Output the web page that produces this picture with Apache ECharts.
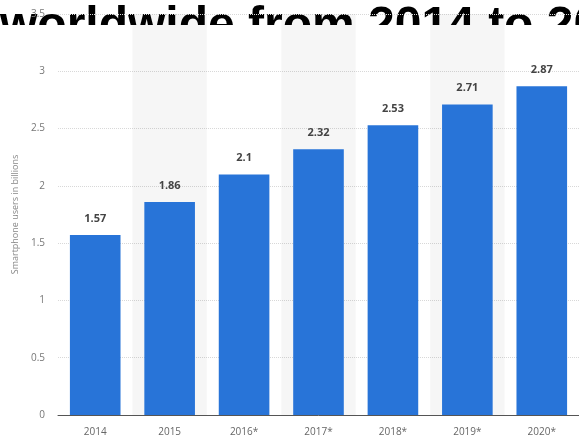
<!DOCTYPE html>
<html>
<head>
<meta charset="utf-8">
<script src="https://cdn.jsdelivr.net/npm/echarts@6/dist/echarts.min.js"></script>
<style>
  html, body { margin: 0; padding: 0; background: #fff; }
  #main { width: 579px; height: 441px; }
</style>
</head>
<body>
<div id="main"></div>
<script>
// data
var years = ['2014', '2015', '2016*', '2017*', '2018*', '2019*', '2020*'];
var users = [1.57, 1.86, 2.1, 2.32, 2.53, 2.71, 2.87];
var yTicks = [0, 0.5, 1, 1.5, 2, 2.5, 3, 3.5];
var titleText = 'worldwide from 2014 to 2020';

var myChart = echarts.init(document.getElementById('main'));
myChart.setOption({
    backgroundColor: '#fff',
    animation: false,
    textStyle: {fontFamily: 'Open Sans'},
    graphic: [
        {
            type: 'text', z: -20, x: 0, y: 3,
            style: {text: titleText, fill: '#000', font: 'bold 48px "Liberation Sans", Arial', verticalAlign: 'top'}
        },
        {
            // the plot area hides the lower half of the title
            type: 'rect', z: -10,
            shape: {x: 0, y: 25, width: 579, height: 40},
            style: {fill: '#fff'}
        }
    ],
    grid: {left: 58, right: 0, top: 14, bottom: 26},
    xAxis: {
        type: 'category',
        data: years,
        axisTick: {show: false},
        axisLine: {lineStyle: {color: '#555', width: 1}},
        axisLabel: {color: '#666', fontSize: 10, margin: 12},
        splitArea: {show: true, areaStyle: {color: ['rgba(0,0,0,0)', 'rgba(0,0,0,0.035)']}}
    },
    yAxis: {
        type: 'value',
        min: yTicks[0],
        max: yTicks[yTicks.length - 1],
        interval: 0.5,
        name: 'Smartphone users in billions',
        nameLocation: 'middle',
        nameGap: 38,
        nameTextStyle: {color: '#888', fontSize: 9},
        axisLine: {show: false},
        axisTick: {show: false},
        axisLabel: {color: '#777', fontSize: 10, margin: 13},
        splitLine: {lineStyle: {color: '#d8d8d8', type: 'dotted'}}
    },
    series: [
        {
            type: 'bar',
            data: users,
            barWidth: '68%',
            itemStyle: {color: '#2874d8'},
            label: {
                show: true,
                position: 'top',
                distance: 11,
                color: '#444',
                fontSize: 11,
                fontWeight: 'bold'
            }
        }
    ]
});
</script>
</body>
</html>
